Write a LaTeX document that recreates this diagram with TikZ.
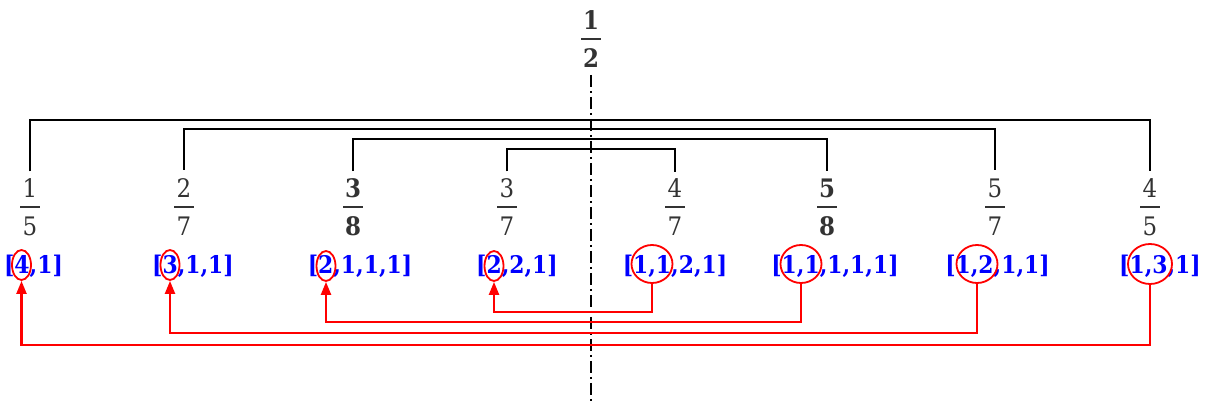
\documentclass[tikz,border=0pt]{standalone}
\usepackage{fontspec}
\setmainfont{DejaVu Serif}[FakeStretch=0.9]
\usetikzlibrary{arrows.meta,shapes.geometric}
\definecolor{fracgray}{HTML}{333333}
% stacked fraction: numerator, bar, denominator
\newcommand\fr[2]{$\vcenter{\hbox to 20pt{\hss#1\hss}\kern8.5pt\hrule height1.9pt\kern8.5pt\hbox to 20pt{\hss#2\hss}}$}

\begin{document}
\begin{tikzpicture}[x=1pt,y=-1pt,
  frac/.style={inner sep=0pt,text=fracgray,font=\fontsize{25.5}{30}\selectfont},
  bfrac/.style={frac,font=\fontsize{25.5}{30}\selectfont\bfseries},
  seq/.style={text=blue,inner sep=0pt,font=\fontsize{24.3}{28}\selectfont\bfseries},
  ring/.style={draw=red,ellipse,line width=1.8pt,inner sep=0pt,minimum width=19pt,minimum height=30pt},
  bigring/.style={ring,minimum width=41pt,minimum height=38pt},
  link/.style={red,line width=2.2pt,-{Triangle[length=13pt,width=10pt]}},
  bracket/.style={line width=2.2pt}]
\useasboundingbox (0,0) rectangle (1208,403);
%
\node[bfrac] (half) at (591,39) {\fr{1}{2}};
\node[frac]  (f15) at (30,207)   {\fr{1}{5}};
\node[frac]  (f27) at (184,207)  {\fr{2}{7}};
\node[bfrac] (f38) at (353,207)  {\fr{3}{8}};
\node[frac]  (f37) at (507,207)  {\fr{3}{7}};
\node[frac]  (f47) at (675,207)  {\fr{4}{7}};
\node[bfrac] (f58) at (827,207)  {\fr{5}{8}};
\node[frac]  (f57) at (995,207)  {\fr{5}{7}};
\node[frac]  (f45) at (1150,207) {\fr{4}{5}};
%
\node[seq] (s41)    at (33.5,266) {[4,1]};
\node[seq] (s311)   at (193,266)  {[3,1,1]};
\node[seq] (s2111)  at (360,266)  {[2,1,1,1]};
\node[seq] (s221)   at (517,266)  {[2,2,1]};
\node[seq] (s1121)  at (675,266)  {[1,1,2,1]};
\node[seq] (s11111) at (835,266)  {[1,1,1,1,1]};
\node[seq] (s1211)  at (997.5,266){[1,2,1,1]};
\node[seq] (s131)   at (1160,266) {[1,3,1]};
%
\node[ring] (r41)   at (21.5,265) {};
\node[ring] (r311)  at (170,265)  {};
\node[ring] (r2111) at (326,266)  {};
\node[ring] (r221)  at (494,266)  {};
\node[bigring] (r1121)  at (652,264)  {};
\node[bigring] (r11111) at (801,264)  {};
\node[bigring] (r1211)  at (977,264)  {};
\node[bigring,minimum width=44pt,minimum height=40pt] (r131) at (1150,264) {};
%
\draw[line width=1.6pt,dash pattern=on 12pt off 4pt on 2pt off 4pt] (591,75) -- (591,403);
%
\draw[bracket] ([yshift=7pt]f15.north) |- (591,120) -| ([yshift=7pt]f45.north);
\draw[bracket] ([yshift=9pt]f27.north) |- (591,129) -| ([yshift=9pt]f57.north);
\draw[bracket] ([yshift=7pt]f38.north) |- (591,139) -| ([yshift=7pt]f58.north);
\draw[bracket] ([yshift=7pt]f37.north) |- (591,149) -| ([yshift=7pt]f47.north);
%
\draw[link] (r1121.south) -- ++(0,28) -| (r221.south);
\draw[link] (r11111.south) -- ++(0,38) -| (r2111.south);
\draw[link] (r1211.south) -- ++(0,49) -| (r311.south);
\draw[link] (r131.south) -- ++(0,60) -| (r41.south);
\end{tikzpicture}
\end{document}
